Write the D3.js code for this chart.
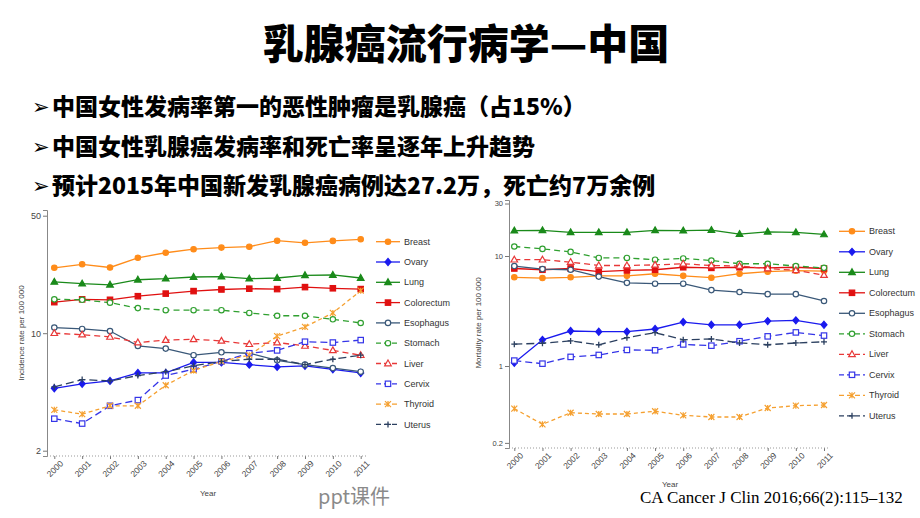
<!DOCTYPE html>
<html><head><meta charset="utf-8">
<script src="https://cdn.jsdelivr.net/npm/d3@7"></script>
<style>body{margin:0;background:#fff;}svg{display:block;}</style>
</head><body>
<svg id="c" width="920" height="518"></svg>
<script>
// ---------- data ----------
const years = [2000,2001,2002,2003,2004,2005,2006,2007,2008,2009,2010,2011];
const seriesNames = ["Breast","Ovary","Lung","Colorectum","Esophagus","Stomach","Liver","Cervix","Thyroid","Uterus"];

// incidence rate per 100 000
const incBreast     = [24.5,25.7,24.6,28.1,30.1,31.6,32.3,32.7,35.5,34.5,35.4,36.2];
const incOvary      = [4.7,5.0,5.2,5.8,5.8,6.7,6.7,6.5,6.3,6.4,6.1,5.8];
const incLung       = [20.2,19.7,19.4,20.8,21.1,21.6,21.7,21.1,21.3,22.1,22.2,21.3];
const incColorectum = [15.3,15.9,15.8,16.6,17.2,17.8,18.2,18.4,18.3,18.8,18.5,18.3];
const incEsophagus  = [10.8,10.6,10.3,8.4,8.1,7.4,7.7,7.6,6.9,6.5,6.2,5.9];
const incStomach    = [15.9,15.8,15.2,14.1,13.7,13.7,13.7,13.2,12.7,12.7,12.1,11.5];
const incLiver      = [10.0,9.8,9.5,8.8,9.1,9.2,9.0,8.6,8.8,8.4,7.9,7.4];
const incCervix     = [3.1,2.9,3.7,4.0,5.6,6.1,6.8,7.6,7.9,8.9,8.8,9.1];
const incThyroid    = [3.5,3.3,3.7,3.7,4.9,6.0,6.8,7.4,9.6,10.9,13.2,17.9];
const incUterus     = [4.8,5.3,5.2,5.6,5.9,6.4,6.8,7.0,7.0,6.5,7.0,7.4];

// mortality rate per 100 000
const morBreast     = [6.4,6.3,6.4,6.6,6.6,6.9,6.6,6.35,6.9,7.2,7.35,7.3];
const morOvary      = [1.07,1.73,2.08,2.05,2.05,2.17,2.51,2.37,2.37,2.56,2.6,2.37];
const morLung       = [17.0,17.1,16.4,16.4,16.4,17.1,17.0,17.2,15.8,16.6,16.4,15.7];
const morColorectum = [7.7,7.5,7.7,7.2,7.4,7.5,7.9,7.8,7.9,7.8,7.9,7.7];
const morEsophagus  = [8.1,7.6,7.5,6.5,5.7,5.6,5.6,4.9,4.7,4.5,4.5,3.9];
const morStomach    = [12.2,11.6,10.9,9.6,9.6,9.25,9.5,9.1,8.5,8.5,8.1,7.8];
const morLiver      = [9.25,9.25,8.8,8.2,8.2,8.3,8.5,8.2,8.1,7.7,7.4,6.7];
const morCervix     = [1.12,1.05,1.21,1.26,1.40,1.39,1.57,1.53,1.68,1.86,2.02,1.89];
const morThyroid    = [0.41,0.295,0.376,0.366,0.366,0.388,0.356,0.344,0.344,0.415,0.436,0.442];
const morUterus     = [1.58,1.61,1.69,1.56,1.81,2.01,1.73,1.76,1.62,1.56,1.62,1.66];

const incTicks = [2,10,50];
const morTicks = [0.2,1,10,30];

const incidence = [incBreast,incOvary,incLung,incColorectum,incEsophagus,incStomach,incLiver,incCervix,incThyroid,incUterus];
const mortality = [morBreast,morOvary,morLung,morColorectum,morEsophagus,morStomach,morLiver,morCervix,morThyroid,morUterus];

// ---------- styles ----------
const styles = [
  {color:"#ff8c1a", dash:null,  shape:"circle",   fill:true},
  {color:"#1a1aee", dash:null,  shape:"diamond",  fill:true},
  {color:"#1a8a1a", dash:null,  shape:"triangle", fill:true},
  {color:"#e01010", dash:null,  shape:"square",   fill:true},
  {color:"#3a5878", dash:null,  shape:"circle",   fill:false},
  {color:"#30a030", dash:"6,4", shape:"circle",   fill:false},
  {color:"#e83838", dash:"6,4", shape:"triangle", fill:false},
  {color:"#3535e8", dash:"7,4", shape:"square",   fill:false},
  {color:"#f5a030", dash:"4,3", shape:"x",        fill:false},
  {color:"#2c4060", dash:"8,4", shape:"plus",     fill:false}
];

const svg = d3.select("#c");
const CJK = "'Noto Sans CJK SC','Noto Sans',sans-serif";

// ---------- header text ----------
svg.append("text").attr("x",466).attr("y",59).attr("text-anchor","middle")
  .attr("font-family",CJK).attr("font-weight",900).attr("font-size",41).attr("fill","#000")
  .text("乳腺癌流行病学—中国");

const bullets = [
  "中国女性发病率第一的恶性肿瘤是乳腺癌（占15%）",
  "中国女性乳腺癌发病率和死亡率呈逐年上升趋势",
  "预计2015年中国新发乳腺癌病例达27.2万，死亡约7万余例"
];
bullets.forEach((b,i)=>{
  const yy = 115 + i*39.5;
  svg.append("text").attr("x",32).attr("y",yy-1).attr("font-family","'DejaVu Sans',sans-serif")
    .attr("font-size",21).attr("fill","#000").text("➢");
  svg.append("text").attr("x",52).attr("y",yy).attr("font-family",CJK).attr("font-weight",900)
    .attr("font-size",23).attr("fill","#000").text(b);
});

// ---------- marker ----------
function marker(g, shape, cx, cy, color, fill){
  const s = 3;
  let el;
  if(shape==="circle"){
    el = g.append("circle").attr("cx",cx).attr("cy",cy).attr("r",s-0.3);
  } else if(shape==="square"){
    el = g.append("rect").attr("x",cx-s+0.3).attr("y",cy-s+0.3).attr("width",2*s-0.6).attr("height",2*s-0.6);
  } else if(shape==="triangle"){
    el = g.append("path").attr("d",`M${cx},${cy-s-0.5}L${cx+s+0.3},${cy+s-0.7}L${cx-s-0.3},${cy+s-0.7}Z`);
  } else if(shape==="diamond"){
    el = g.append("path").attr("d",`M${cx},${cy-s-0.5}L${cx+s},${cy}L${cx},${cy+s+0.5}L${cx-s},${cy}Z`);
  } else if(shape==="x"){
    el = g.append("path").attr("d",`M${cx-s},${cy-s}L${cx+s},${cy+s}M${cx-s},${cy+s}L${cx+s},${cy-s}M${cx},${cy-s}L${cx},${cy+s}`);
    el.attr("stroke",color).attr("stroke-width",1.2).attr("fill","none");
    return;
  } else if(shape==="plus"){
    el = g.append("path").attr("d",`M${cx-s},${cy}L${cx+s},${cy}M${cx},${cy-s}L${cx},${cy+s}`);
    el.attr("stroke",color).attr("stroke-width",1.3).attr("fill","none");
    return;
  }
  el.attr("stroke",color).attr("stroke-width",1.2).attr("fill",fill?color:"#fff");
}

// ---------- chart ----------
function drawChart(cfg){
  const g = svg.append("g");
  const x = d3.scaleLinear().domain([years[0],years[years.length-1]]).range(cfg.xr);
  const base = d3.scaleLog().domain(cfg.refVals).range(cfg.refYs);
  const y = d3.scaleLog().domain([base.invert(cfg.axisBottom), base.invert(cfg.axisTop)])
              .range([cfg.axisBottom, cfg.axisTop]);

  // y axis
  const ya = g.append("g").attr("transform",`translate(${cfg.axisX},0)`)
    .call(d3.axisLeft(y).tickValues(cfg.ticks).tickFormat(d=>String(d)).tickSize(4).tickPadding(2));
  ya.select(".domain").attr("stroke","#888").attr("stroke-width",1);
  ya.selectAll(".tick line").attr("stroke","#777");
  ya.selectAll("text").attr("font-family","Arial,'Liberation Sans',sans-serif").attr("font-size",cfg.yFont).attr("fill","#444");

  // x axis
  const xa = g.append("g").attr("transform",`translate(0,${cfg.axisBottom})`)
    .call(d3.axisBottom(x).tickValues(years).tickFormat(d3.format("d")).tickSize(3).tickPadding(2));
  xa.select(".domain").remove();
  g.append("line").attr("x1",cfg.axisX).attr("x2",cfg.xEnd).attr("y1",cfg.axisBottom).attr("y2",cfg.axisBottom)
    .attr("stroke","#999").attr("stroke-dasharray","1,2");
  xa.selectAll(".tick line").attr("stroke","#777");
  xa.selectAll("text").attr("font-family","Arial,'Liberation Sans',sans-serif").attr("font-size",8.5).attr("fill","#444")
    .attr("text-anchor","end").attr("transform","translate(3,1) rotate(-45)").attr("dy","0.5em").attr("dx","-0.1em");

  // axis titles
  g.append("text").attr("x",cfg.yearX).attr("y",cfg.yearY).attr("text-anchor","middle")
    .attr("font-family","Arial,'Liberation Sans',sans-serif").attr("font-size",8).attr("fill","#444").text("Year");
  g.append("text").attr("transform",`translate(${cfg.ylabX},${cfg.ylabY}) rotate(-90)`).attr("text-anchor","middle")
    .attr("font-family","Arial,'Liberation Sans',sans-serif").attr("font-size",8).attr("fill","#444").text(cfg.ylab);

  // lines
  const line = d3.line().x((d,i)=>x(years[i])).y(d=>y(d));
  cfg.data.forEach((vals,k)=>{
    const st = styles[k];
    g.append("path").attr("d",line(vals)).attr("fill","none").attr("stroke",st.color)
      .attr("stroke-width",1.3).attr("stroke-dasharray",st.dash);
  });
  cfg.data.forEach((vals,k)=>{
    const st = styles[k];
    vals.forEach((v,i)=>marker(g,st.shape,x(years[i]),y(v),st.color,st.fill));
  });

  // legend
  seriesNames.forEach((n,k)=>{
    const st = styles[k];
    const ly = cfg.legY + k*cfg.legStep;
    g.append("line").attr("x1",cfg.legX).attr("x2",cfg.legX+cfg.legW).attr("y1",ly).attr("y2",ly)
      .attr("stroke",st.color).attr("stroke-width",1.3).attr("stroke-dasharray",st.dash?"5,3":null);
    marker(g,st.shape,cfg.legX+cfg.legW/2,ly,st.color,st.fill);
    g.append("text").attr("x",cfg.legX+cfg.legW+4).attr("y",ly).attr("dy","0.35em")
      .attr("font-family","Arial,'Liberation Sans',sans-serif").attr("font-size",9).attr("fill","#333").text(n);
  });
}

drawChart({
  data: incidence, ticks: incTicks, yFont: 9,
  xr:[54.3,360.7], refVals:[2,50], refYs:[450.7,215.7],
  axisX:47, axisBottom:456, axisTop:210, xEnd:368,
  yearX:208, yearY:496, ylabX:24, ylabY:333, ylab:"Incidence rate per 100 000",
  legX:376, legW:24, legY:241.7, legStep:20.3
});
drawChart({
  data: mortality, ticks: morTicks, yFont: 7.5,
  xr:[514.3,824], refVals:[1,10], refYs:[366,256],
  axisX:509, axisBottom:448, axisTop:200, xEnd:830,
  yearX:670, yearY:487, ylabX:481, ylabY:323, ylab:"Mortality rate per 100 000",
  legX:839, legW:26, legY:231.3, legStep:20.5
});

// ---------- footer ----------
svg.append("text").attr("x",318).attr("y",504).attr("font-family",CJK).attr("font-size",20)
  .attr("fill","#8a8a8a").text("ppt课件");
svg.append("text").attr("x",640).attr("y",503).attr("font-family","'Liberation Serif','Times New Roman',serif")
  .attr("font-size",17).attr("fill","#000").text("CA Cancer J Clin 2016;66(2):115–132");
</script>
</body></html>
